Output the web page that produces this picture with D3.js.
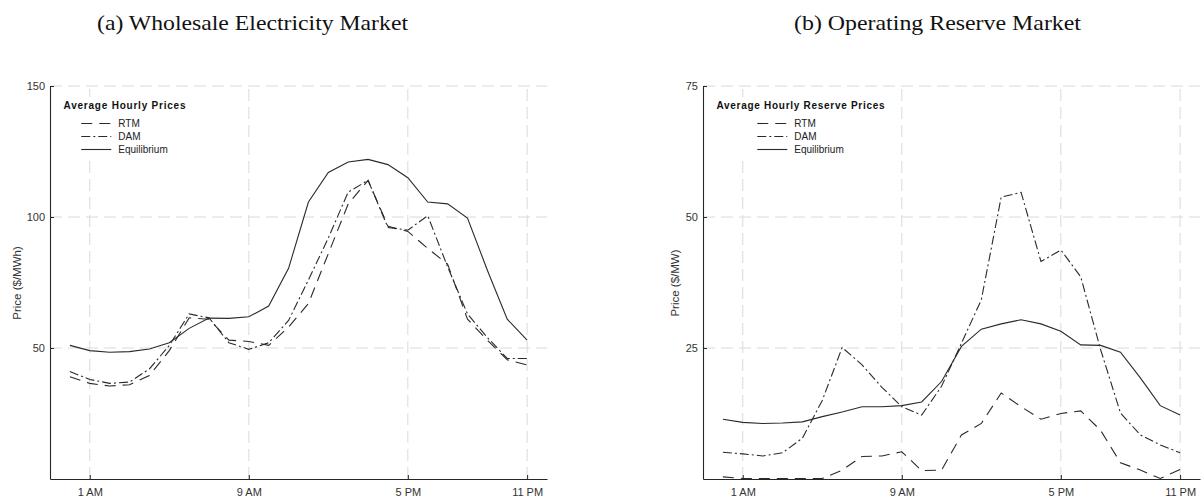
<!DOCTYPE html>
<html><head><meta charset="utf-8">
<script src="https://cdn.jsdelivr.net/npm/d3@7/dist/d3.min.js"></script>
<style>
body{margin:0;background:#fff;}
svg{display:block;}
</style></head><body>
<svg id="c" width="1204" height="499"></svg>
<script>
// ---------- data ----------
const hours = [1,2,3,4,5,6,7,8,9,10,11,12,13,14,15,16,17,18,19,20,21,22,23,24];
const tickHours = [2,10,18,24];
const tickLabels = ["1 AM","9 AM","5 PM","11 PM"];
const seriesNames = ["RTM","DAM","Equilibrium"];

const wholesaleRTM = [39,36.5,35.5,36,39.5,49,61.5,61,53,52.5,51,58,67,86,105,114,96.5,94.5,88,82,61,53,45.5,43.5];
const wholesaleDAM = [41,38,36.5,37,42,51,63,61.5,52,49.5,52,60.5,76,92,109.5,114,96,95,100.5,81,63,54,46,46];
const wholesaleEq  = [51,49,48.4,48.6,49.6,52,57.5,61.4,61.3,61.9,66,80.4,105.7,117,121,122,120,115,105.7,105,99.6,79.7,61,53];
const wholesaleTicks = [50,100,150];

const reserveRTM = [0.4,0.1,0.1,0.1,0.1,0.1,1.7,4.3,4.4,5.2,1.6,1.7,8.4,10.6,16.4,13.8,11.4,12.5,13.0,9.3,3.1,1.7,0.1,1.8];
const reserveDAM = [5.1,4.8,4.4,5.0,7.8,15.0,25.1,21.8,17.5,13.8,12.2,17.7,25.9,34.2,53.8,54.7,41.5,43.7,38.6,24.7,12.6,8.4,6.5,5.0];
const reserveEq  = [11.4,10.8,10.6,10.7,10.9,11.9,12.8,13.8,13.8,14.0,14.7,18.6,25.3,28.6,29.6,30.4,29.6,28.2,25.6,25.5,24.2,19.3,14.0,12.2];
const reserveTicks = [25,50,75];

// ---------- drawing ----------
const svg = d3.select("#c");
const SANS = "'Liberation Sans', Arial, Helvetica, sans-serif";
const styles = {
  RTM: {dash:"11,7", w:1.1},
  DAM: {dash:"9,3,2,3", w:1.1},
  Equilibrium: {dash:null, w:1.1}
};

function panel(o){
  const x = d3.scaleLinear().domain([0,25]).range([o.x0, o.x1]);
  const y = d3.scaleLinear().domain([0,o.yMax]).range([479, 86]);
  const g = svg.append("g");

  // grid
  g.append("g").selectAll("line").data(tickHours).join("line")
    .attr("x1",d=>x(d)).attr("x2",d=>x(d)).attr("y1",y(0)).attr("y2",y(o.yMax))
    .attr("stroke","#dadada").attr("stroke-width",1).attr("stroke-dasharray","12,6");
  g.append("g").selectAll("line").data(o.yTicks).join("line")
    .attr("x1",x(0)).attr("x2",x(25)).attr("y1",d=>y(d)).attr("y2",d=>y(d))
    .attr("stroke","#dadada").attr("stroke-width",1).attr("stroke-dasharray","12,6");

  // series
  const line = d3.line().x((d,i)=>x(hours[i])).y(d=>y(d));
  o.series.forEach((s,k)=>{
    const st = styles[seriesNames[k]];
    g.append("path").attr("d",line(s)).attr("fill","none")
      .attr("stroke","#2a2a2a").attr("stroke-width",st.w)
      .attr("stroke-dasharray",st.dash);
  });

  // axes
  const xa = d3.axisBottom(x).tickValues(tickHours).tickFormat((d,i)=>tickLabels[i])
    .tickSizeInner(-4).tickSizeOuter(0).tickPadding(9);
  const ya = d3.axisLeft(y).tickValues(o.yTicks).tickFormat(d3.format("d"))
    .tickSizeInner(-4).tickSizeOuter(0).tickPadding(5);
  const gx = g.append("g").attr("transform",`translate(0,${y(0)})`).call(xa);
  const gy = g.append("g").attr("transform",`translate(${x(0)},0)`).call(ya);
  [gx,gy].forEach(a=>{
    a.select(".domain").attr("stroke","#262626").attr("stroke-width",1.1);
    a.selectAll(".tick line").attr("stroke","#262626");
    a.selectAll("text").attr("font-family",SANS).attr("font-size","11px").attr("fill","#333");
  });

  // y label
  g.append("text").attr("transform",`translate(${o.ylabX},283) rotate(-90)`)
    .attr("text-anchor","middle").attr("dominant-baseline","central")
    .attr("font-family",SANS).attr("font-size","11.5px").attr("fill","#333").text(o.ylabel);

  // legend
  const lg = g.append("g");
  const bg = lg.append("rect").attr("fill","#fff");
  const tLeft = x(0) + 13.5;
  lg.append("text").attr("x",tLeft).attr("y",108.5)
    .attr("font-family",SANS).attr("font-size","10px").attr("font-weight","bold").attr("fill","#111")
    .attr("textLength",o.legW).attr("lengthAdjust","spacing").text(o.legTitle);
  const center = tLeft + o.legW/2;
  const rows = [123.5,136.5,149.5];
  const texts = seriesNames.map((n,i)=>lg.append("text").attr("y",rows[i]+3.4)
    .attr("font-family",SANS).attr("font-size","10px").attr("fill","#222").text(n));
  const maxW = d3.max(texts,t=>t.node().getComputedTextLength());
  const blockW = 30 + 7 + maxW;
  const lx = center - blockW/2;
  texts.forEach(t=>t.attr("x",lx+37));
  seriesNames.forEach((n,i)=>{
    const st = styles[n];
    lg.append("line").attr("x1",lx).attr("x2",lx+30).attr("y1",rows[i]).attr("y2",rows[i])
      .attr("stroke","#2a2a2a").attr("stroke-width",st.w).attr("stroke-dasharray",st.dash);
  });
  bg.attr("x",tLeft-5).attr("y",97).attr("width",o.legW+10).attr("height",63);

  // subplot title
  svg.append("text").attr("x",o.titleX).attr("y",30)
    .attr("font-family","'Liberation Serif','Times New Roman',serif").attr("font-size","21px").attr("fill","#111")
    .attr("textLength",o.titleW).attr("lengthAdjust","spacingAndGlyphs")
    .text(o.title);
}

panel({x0:50,x1:547,yMax:150,yTicks:wholesaleTicks,series:[wholesaleRTM,wholesaleDAM,wholesaleEq],
  ylabel:"Price ($/MWh)",ylabX:17,legTitle:"Average Hourly Prices",legW:122,
  title:"(a) Wholesale Electricity Market",titleX:97,titleW:311});
panel({x0:703,x1:1200,yMax:75,yTicks:reserveTicks,series:[reserveRTM,reserveDAM,reserveEq],
  ylabel:"Price ($/MW)",ylabX:675,legTitle:"Average Hourly Reserve Prices",legW:168,
  title:"(b) Operating Reserve Market",titleX:794,titleW:287});
</script>
</body></html>
